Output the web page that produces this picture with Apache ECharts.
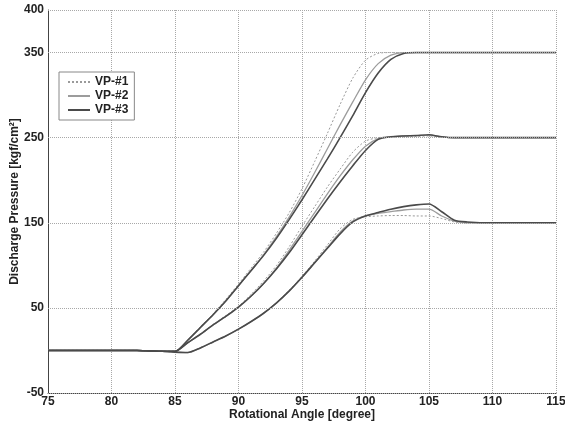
<!DOCTYPE html>
<html>
<head>
<meta charset="utf-8">
<script src="https://cdn.jsdelivr.net/npm/echarts@6/dist/echarts.min.js"></script>
<style>
html,body{margin:0;padding:0;background:#fff;}
#chart{width:565px;height:425px;}
</style>
</head>
<body>
<div id="chart"></div>
<script>
// Rotational angle (degree) sample points
var angles = [75, 80, 82, 83, 84, 85, 86, 87, 88, 89, 90, 91, 92, 93, 94, 95, 96, 97, 98, 99, 100, 101, 102, 103, 104, 105, 106, 107, 108, 110, 115];

// 350 kgf/cm2 case
var high_vp1 = [0, 0, 0, -0.5, -1, -1, 12, 28, 43, 60, 78, 97, 116, 138, 162, 190, 222, 255, 289, 320, 341, 349, 350, 350, 350, 350, 350, 350, 350, 350, 350];
var high_vp2 = [0, 0, 0, -0.5, -1, -1, 12, 27, 42, 58, 76, 94, 113, 134, 157, 182, 209, 237, 265, 292, 318, 337, 347, 350, 350, 350, 350, 350, 350, 350, 350];
var high_vp3 = [0, 0, 0, -0.5, -1, -1, 12, 27, 42, 58, 76, 94, 112, 132, 154, 177, 201, 225, 250, 276, 303, 326, 342, 349, 350, 350, 350, 350, 350, 350, 350];

// 250 kgf/cm2 case
var mid_vp1 = [0, 0, 0, -0.5, -1, -1, 9, 19, 30, 41, 52, 66, 82, 100, 122, 146, 169, 192, 213, 233, 246, 250, 251, 251, 251.5, 252, 250.5, 250, 250, 250, 250];
var mid_vp2 = [0, 0, 0, -0.5, -1, -1, 9, 19, 30, 40, 51, 64, 79, 97, 118, 140, 162, 184, 205, 224, 240, 249, 251, 252, 252.5, 253, 251, 250, 250, 250, 250];
var mid_vp3 = [0, 0, 0, -0.5, -1, -1, 9, 19, 30, 40, 51, 64, 79, 96, 115, 136, 157, 178, 198, 217, 235, 248, 251, 252, 252.5, 253.5, 251, 250, 250, 250, 250];

// 150 kgf/cm2 case
var low_vp1 = [0, 0, 0, -0.5, -1, -2, -2.5, 3, 10, 17, 25, 34, 44, 56, 71, 87, 105, 124, 143, 154, 157, 158, 158.5, 158.5, 158, 158, 155, 151, 150, 150, 150];
var low_vp2 = [0, 0, 0, -0.5, -1, -2, -2.5, 3, 10, 17, 25, 34, 44, 56, 70, 86, 103, 121, 139, 152, 158, 161, 163, 165, 166, 166, 158, 152, 150, 150, 150];
var low_vp3 = [0, 0, 0, -0.5, -1, -2, -2.5, 3, 10, 17, 25, 34, 44, 56, 70, 86, 103, 120, 137, 151, 158, 162, 166, 169, 171, 172, 163, 153, 151, 150, 150];

var seriesNames = ['VP-#1', 'VP-#2', 'VP-#3'];
// Tick labels / gridlines on the pressure axis
var yTicks = [-50, 50, 150, 250, 350, 400];

function pairs(vals) {
  return angles.map(function (a, i) { return [a, vals[i]]; });
}

var FONT = 'Liberation Sans, Arial, sans-serif';

var styles = {
  'VP-#1': { color: '#9a9a9a', width: 1, type: [2, 2] },
  'VP-#2': { color: '#9c9c9c', width: 1.3, type: 'solid' },
  'VP-#3': { color: '#4a4a4a', width: 1.6, type: 'solid' }
};

var groups = [
  [high_vp1, high_vp2, high_vp3],
  [mid_vp1, mid_vp2, mid_vp3],
  [low_vp1, low_vp2, low_vp3]
];

var series = [];
// gridlines of the pressure axis, placed through the y scale
series.push({
  type: 'line',
  data: [],
  silent: true,
  z: 1,
  markLine: {
    silent: true,
    symbol: ['none', 'none'],
    label: { show: false },
    animation: false,
    lineStyle: { color: '#a8a8a8', type: [1, 1], width: 1 },
    data: yTicks.map(function (v) { return { yAxis: v }; })
  }
});
groups.forEach(function (g) {
  g.forEach(function (vals, k) {
    var nm = seriesNames[k];
    var st = styles[nm];
    series.push({
      name: nm,
      type: 'line',
      data: pairs(vals),
      showSymbol: false,
      symbol: 'none',
      smooth: 0.25,
      z: 2 + k,
      lineStyle: { color: st.color, width: st.width, type: st.type },
      itemStyle: { color: st.color }
    });
  });
});

var chart = echarts.init(document.getElementById('chart'), null, { renderer: 'canvas' });
chart.setOption({
  animation: false,
  backgroundColor: '#ffffff',
  grid: { left: 48, right: 9, top: 10, bottom: 32, containLabel: false, outerBoundsMode: 'none' },
  legend: {
    data: seriesNames,
    orient: 'vertical',
    left: 59,
    top: 72,
    itemWidth: 22,
    itemHeight: 10,
    itemGap: 2,
    padding: [4, 6, 4, 8],
    itemStyle: { opacity: 0, borderWidth: 0 },
    backgroundColor: '#ffffff',
    borderColor: '#888',
    borderWidth: 1,
    borderRadius: 0,
    textStyle: { fontFamily: FONT, fontWeight: 'bold', fontSize: 12, color: '#222' }
  },
  xAxis: {
    type: 'value',
    min: 75,
    max: 115,
    interval: 5,
    name: 'Rotational Angle [degree]',
    nameLocation: 'middle',
    nameGap: 16,
    nameMoveOverlap: false,
    nameTextStyle: { fontFamily: FONT, fontWeight: 'bold', fontSize: 12, color: '#222' },
    axisLine: { show: true, onZero: false, lineStyle: { color: '#444', width: 1 } },
    axisTick: { show: false },
    axisLabel: { margin: 3, fontFamily: FONT, fontWeight: 'bold', fontSize: 12, color: '#222' },
    splitLine: { show: true, lineStyle: { color: '#a8a8a8', type: [1, 1], width: 1 } }
  },
  yAxis: {
    type: 'value',
    min: -50,
    max: 400,
    interval: 50,
    name: 'Discharge Pressure [kgf/cm²]',
    nameLocation: 'middle',
    nameGap: 27,
    nameMoveOverlap: false,
    nameRotate: 90,
    nameTextStyle: { fontFamily: FONT, fontWeight: 'bold', fontSize: 12, color: '#222' },
    axisLine: { show: true, onZero: false, lineStyle: { color: '#444', width: 1 } },
    axisTick: { show: false },
    axisLabel: {
      margin: 4,
      fontFamily: FONT, fontWeight: 'bold', fontSize: 12, color: '#222',
      formatter: function (v) { return yTicks.indexOf(v) >= 0 ? String(v) : ''; }
    },
    splitLine: { show: false }
  },
  series: series
});
</script>
</body>
</html>
